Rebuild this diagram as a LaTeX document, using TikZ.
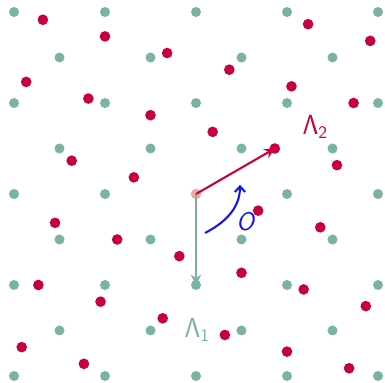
\documentclass[tikz,border=0pt]{standalone}
\usetikzlibrary{arrows.meta}
\definecolor{tealc}{RGB}{122,178,166}
\definecolor{redc}{RGB}{200,0,64}
\definecolor{pinkc}{RGB}{234,172,166}
\definecolor{bluec}{RGB}{20,20,235}
\begin{document}
\begin{tikzpicture}[
  tdot/.style={fill=tealc},
  rdot/.style={fill=redc},
  vecarrow/.style={line width=1.3pt,-{Stealth[length=6.5pt,width=6.5pt,inset=2.2pt]}},
  rotarrow/.style={line width=1.3pt,bluec,-{Straight Barb[length=3.5pt,width=6.5pt]}},
  lbl/.style={font=\fontsize{16}{19}\selectfont}
]
\useasboundingbox (-4.308,-4.154) rectangle (4.154,4.264);
% teal lattice
\foreach \i in {-4,...,4}{
  \foreach \j in {-4,...,4}{
    \pgfmathtruncatemacro\myparity{mod(abs(\i+\j),2)}
    \pgfmathtruncatemacro\myorig{and(\i==0,\j==0)}
    \ifnum\myparity=0
      \ifnum\myorig=0 \fill[tdot] (\i,\j) circle[radius=0.11]; \fi
    \fi
  }
}
% rotated (red) lattice
\foreach \m in {-7,...,7}{
  \foreach \n in {-7,...,7}{
    \pgfmathsetmacro\px{0.3660254*\m+1.3660254*\n}
    \pgfmathsetmacro\py{1.3660254*\m-0.3660254*\n}
    \pgfmathtruncatemacro\ok{and(and(abs(\px)<=4.02,abs(\py)<=4.02),or(\m!=0,\n!=0))}
    \ifnum\ok=1 \fill[rdot] (\px,\py) circle[radius=0.117]; \fi
  }
}
% origin
\fill[pinkc] (0,0) circle[radius=0.115];
\coordinate (O) at (0,0);
\coordinate (L1) at (0,-2);
\coordinate (L2) at (1.7320508,1);
\coordinate (as) at (0.198,-0.857);
\coordinate (ae) at (0.967,0.20);
\draw[vecarrow,tealc] (O) -- (L1);
\draw[vecarrow,redc] (O) -- (L2);
\draw[rotarrow] (as) .. controls (0.58,-0.66) and (0.967,-0.35) .. (ae);
\node[lbl,text=tealc] (l1) at (0.03,-2.99) {$\mathsf{\Lambda}_{\mathsf{1}}$};
\node[lbl,text=redc] (l2) at (2.62,1.47) {$\mathsf{\Lambda}_{\mathsf{2}}$};
\node[lbl,text=bluec] (lo) at (1.08,-0.60) {\sffamily\itshape O};
\end{tikzpicture}
\end{document}
